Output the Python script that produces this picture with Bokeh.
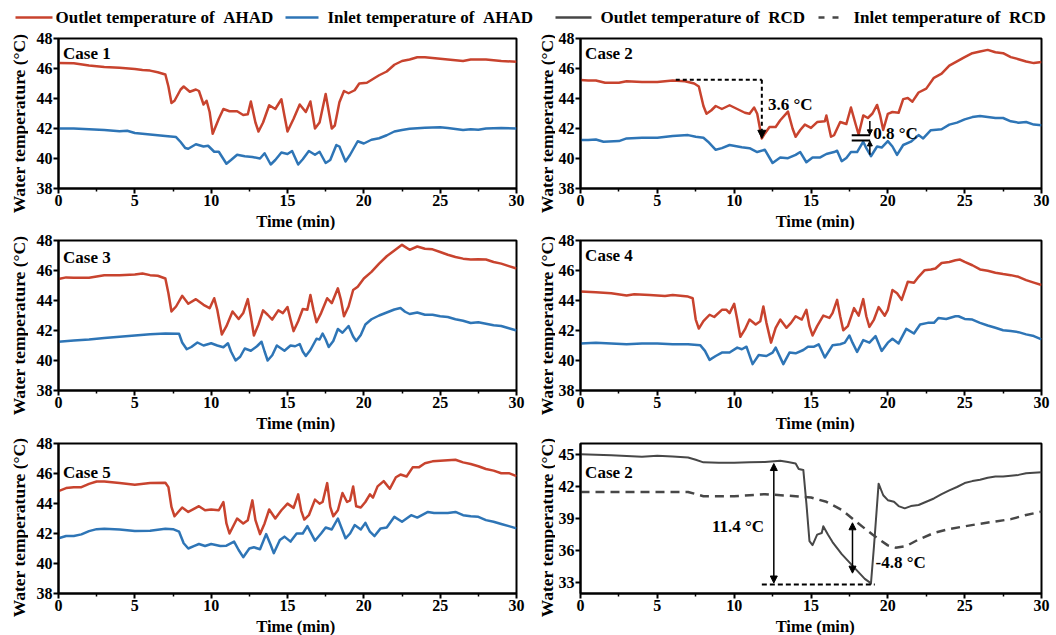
import math
from bokeh.plotting import figure
from bokeh.layouts import column, row
from bokeh.models import Label, Arrow, NormalHead, FixedTicker, Range1d
from bokeh.embed import file_html
from bokeh.resources import INLINE

# ---------------- data (time in min, temperature in degC) ----------------
legend_labels = ["Outlet temperature of \u00a0AHAD", "Inlet temperature of \u00a0AHAD",
                 "Outlet temperature of \u00a0RCD", "Inlet temperature of \u00a0RCD"]
case_labels = ["Case 1", "Case 2", "Case 3", "Case 4", "Case 5", "Case 2"]
x_title = "Time (min)"
y_title = "Water temperature (\u00b0C)"
x_ticks = [0, 5, 10, 15, 20, 25, 30]
x_minor = [2.5, 7.5, 12.5, 17.5, 22.5, 27.5]
y_ticks_ahad = [38, 40, 42, 44, 46, 48]
y_ticks_rcd = [33, 36, 39, 42, 45]

c1_out = [(0,46.36),(1,46.35),(2,46.2),(3,46.1),(4,46.05),(5,45.97),(5.5,45.9),(6,45.86),(6.5,45.75),(7,45.6),
          (7.2,44.8),(7.4,43.7),(7.6,43.85),(8,44.6),(8.2,44.8),(8.6,44.45),(9,44.6),(9.2,44.5),(9.5,43.6),(9.7,43.85),
          (9.9,43.1),(10.1,41.65),(10.5,42.65),(10.8,43.3),(11.2,43.15),(11.7,43.15),(12.1,42.9),(12.4,42.95),(12.6,43.8),
          (12.9,42.4),(13.1,41.8),(13.4,42.4),(13.8,43.55),(14.2,43.3),(14.6,43.95),(14.8,42.85),(15,41.8),(15.4,42.65),
          (15.8,43.6),(16.2,43.1),(16.5,43.8),(16.8,42.0),(17.1,42.4),(17.5,44.3),(17.9,42.0),(18.1,42.2),(18.4,43.75),
          (18.7,44.5),(19,44.35),(19.4,44.55),(19.7,45.0),(20.2,45.05),(20.6,45.3),(21,45.55),(21.5,45.8),(22,46.25),
          (22.5,46.5),(23,46.6),(23.5,46.75),(24,46.75),(24.5,46.7),(25,46.65),(25.5,46.6),(26,46.55),(26.5,46.5),
          (27,46.6),(28,46.6),(29,46.5),(30,46.45)]
c1_in = [(0,42.0),(1,42.0),(2,41.95),(3,41.9),(4,41.82),(4.5,41.85),(5,41.7),(6,41.6),(7,41.5),(7.7,41.43),(8.0,41.1),
         (8.3,40.7),(8.5,40.65),(9.0,40.95),(9.5,40.8),(9.8,40.85),(10.2,40.45),(10.5,40.45),(11.0,39.65),(11.3,39.9),
         (11.7,40.25),(12.2,40.15),(12.7,40.1),(13.2,40.0),(13.5,40.35),(13.9,39.6),(14.2,39.9),(14.6,40.4),(15.0,40.3),
         (15.3,40.5),(15.7,39.6),(16.0,39.95),(16.4,40.5),(16.8,40.25),(17.1,40.45),(17.5,39.7),(17.8,39.9),(18.2,40.9),
         (18.4,40.8),(18.8,39.8),(19.1,40.25),(19.6,41.15),(20.0,41.0),(20.5,41.25),(21.0,41.35),(21.5,41.55),(22,41.8),
         (22.5,41.9),(23,41.98),(24,42.05),(25,42.08),(25.5,42.03),(26.5,41.9),(27,41.95),(27.5,41.92),(28,42.0),
         (29,42.03),(30,42.0)]

c2_out = [(0,45.23),(0.5,45.2),(1.0,45.2),(1.6,45.05),(2.5,45.05),(3,45.15),(4,45.1),(5,45.1),(6,45.2),(6.8,45.15),
          (7.4,45.0),(7.7,44.8),(8.0,43.5),(8.2,42.98),(8.5,43.2),(8.8,43.5),(9.2,43.3),(9.7,43.55),(10.2,43.3),
          (10.7,43.05),(11.0,42.98),(11.3,43.4),(11.5,42.98),(11.8,41.34),(12.0,41.67),(12.3,42.1),(12.7,42.1),
          (13.0,42.55),(13.5,43.13),(13.8,42.0),(14.0,41.45),(14.3,41.9),(14.6,42.26),(15.0,42.04),(15.4,42.43),
          (15.9,42.48),(16.0,42.87),(16.3,41.45),(16.5,41.55),(16.9,42.43),(17.3,42.3),(17.6,43.4),(17.9,42.3),
          (18.1,41.6),(18.4,42.87),(18.7,42.7),(19.0,43.0),(19.3,43.57),(19.5,42.87),(19.7,41.9),(20.0,42.98),
          (20.3,43.1),(20.7,43.05),(21.0,43.96),(21.3,44.03),(21.6,43.79),(22.0,44.4),(22.5,44.66),(23,45.38),
          (23.5,45.66),(24,46.19),(24.5,46.47),(25,46.76),(25.5,47.02),(26,47.13),(26.5,47.24),(27,47.08),
          (27.5,47.02),(28,46.76),(28.5,46.62),(29,46.47),(29.5,46.36),(30,46.43)]
c2_in = [(0,41.23),(0.5,41.23),(1.0,41.27),(1.5,41.12),(2.5,41.16),(3,41.34),(4,41.38),(5,41.38),(6,41.5),(7,41.56),
         (7.5,41.45),(8.0,41.38),(8.3,41.12),(8.8,40.58),(9.2,40.69),(9.7,40.9),(10.5,40.75),(11,40.69),(11.5,40.43),
         (12.0,40.58),(12.5,39.7),(13.0,40.07),(13.5,40.02),(14.0,40.24),(14.3,40.43),(14.7,39.75),(15.1,40.07),
         (15.6,40.07),(16.0,40.3),(16.5,40.43),(16.7,40.52),(17.0,39.82),(17.3,40.04),(17.6,40.43),(18.0,40.43),
         (18.4,41.12),(18.6,40.69),(18.9,40.15),(19.3,40.8),(19.6,40.73),(20.0,41.16),(20.3,40.8),(20.6,40.24),
         (21.0,40.9),(21.5,41.12),(22.0,41.56),(22.3,41.34),(22.8,41.89),(23.5,41.95),(24,42.26),(24.5,42.39),
         (25,42.61),(25.5,42.76),(26,42.83),(26.5,42.76),(27,42.7),(27.5,42.7),(28,42.48),(28.5,42.39),(29,42.43),
         (29.5,42.26),(30,42.21)]

c3_out = [(0,45.43),(0.5,45.54),(1,45.52),(2,45.52),(3,45.69),(4,45.69),(5,45.74),(5.5,45.8),(6,45.69),(6.5,45.65),
          (7.0,45.47),(7.2,44.48),(7.4,43.27),(7.7,43.6),(8.1,44.31),(8.5,43.78),(9.0,44.09),(9.5,43.71),(9.9,43.49),
          (10.2,44.15),(10.4,43.38),(10.7,41.74),(11.0,42.29),(11.4,43.27),(11.8,42.77),(12.1,43.16),(12.4,44.09),
          (12.6,42.95),(12.8,41.67),(13.1,42.4),(13.4,43.34),(13.7,43.05),(14.0,42.73),(14.4,43.34),(14.7,43.16),
          (15.0,43.56),(15.2,42.73),(15.4,41.96),(15.7,42.62),(16.0,43.43),(16.3,43.38),(16.5,44.37),(16.7,43.38),
          (16.9,42.55),(17.2,43.16),(17.6,44.15),(17.9,43.82),(18.3,44.81),(18.5,44.04),(18.7,42.95),(19.0,43.6),
          (19.3,44.7),(19.6,44.92),(20.0,45.47),(20.5,45.91),(21,46.46),(21.5,46.95),(22,47.34),(22.5,47.71),
          (23,47.38),(23.5,47.6),(24,47.45),(24.5,47.41),(25,47.23),(25.5,47.05),(26,46.9),(26.5,46.79),(27,46.73),
          (27.5,46.75),(28,46.73),(28.5,46.57),(29,46.46),(29.5,46.29),(30,46.13)]
c3_in = [(0,41.25),(1,41.33),(2,41.4),(3,41.5),(4,41.58),(5,41.67),(6,41.75),(7,41.8),(7.9,41.78),(8.1,41.2),
         (8.4,40.75),(8.7,40.9),(9.1,41.2),(9.5,41.0),(10.0,41.15),(10.4,41.0),(10.8,40.88),(11.1,41.15),(11.3,40.6),
         (11.6,40.0),(11.9,40.25),(12.2,40.8),(12.6,40.65),(13.0,40.95),(13.3,41.25),(13.5,40.6),(13.7,40.0),
         (14.0,40.35),(14.3,41.0),(14.8,40.65),(15.2,41.0),(15.5,40.95),(15.8,41.1),(16.0,40.6),(16.2,40.3),
         (16.5,40.7),(16.9,41.45),(17.1,41.4),(17.3,41.8),(17.5,41.4),(17.7,40.9),(18.0,41.3),(18.3,42.1),
         (18.6,41.85),(19.0,42.3),(19.3,41.6),(19.5,41.3),(19.8,41.7),(20.1,42.4),(20.5,42.75),(21.0,43.0),
         (21.5,43.2),(22.0,43.4),(22.4,43.5),(22.7,43.25),(23.0,43.1),(23.5,43.2),(24.0,43.05),(24.5,43.05),
         (25,42.95),(25.5,42.9),(26,42.75),(26.5,42.65),(27,42.5),(27.5,42.55),(28,42.45),(28.5,42.35),(29,42.3),
         (29.5,42.15),(30,42.0)]

c4_out = [(0,44.6),(1,44.55),(2,44.48),(3,44.33),(3.5,44.42),(4.5,44.37),(5.5,44.3),(6,44.37),(7,44.26),(7.3,44.15),
          (7.5,42.73),(7.7,42.13),(8.0,42.62),(8.4,43.05),(8.7,42.9),(9.2,43.38),(9.5,43.38),(9.7,43.16),(10.0,43.78),
          (10.2,42.73),(10.4,41.58),(10.7,42.07),(11.0,42.73),(11.4,42.4),(11.7,42.62),(11.9,43.6),(12.1,42.51),
          (12.4,41.19),(12.7,42.18),(13.0,42.73),(13.4,42.18),(13.7,42.51),(14.0,42.95),(14.4,42.73),(14.7,43.38),
          (14.9,42.29),(15.1,41.67),(15.4,42.29),(15.8,42.99),(16.2,42.84),(16.4,43.16),(16.7,44.04),(16.9,42.95),
          (17.1,42.02),(17.4,42.29),(17.8,43.49),(18.1,42.99),(18.4,44.09),(18.6,42.95),(18.8,42.24),(19.1,42.73),
          (19.4,43.56),(19.8,42.99),(20.0,43.38),(20.3,44.7),(20.6,44.48),(20.9,44.04),(21.3,45.25),(21.7,45.19),
          (22.0,45.58),(22.4,46.02),(22.8,46.07),(23.1,46.13),(23.5,46.5),(24.0,46.57),(24.4,46.68),(24.7,46.73),
          (25.0,46.57),(25.5,46.35),(26,46.07),(26.5,45.98),(27,45.85),(27.5,45.76),(28,45.69),(28.5,45.58),
          (29,45.36),(29.5,45.19),(30,45.03)]
c4_in = [(0,41.14),(1,41.19),(2,41.14),(3,41.08),(4,41.14),(5,41.14),(6,41.08),(7,41.08),(7.8,41.01),(8.1,40.64),
         (8.4,40.04),(8.8,40.3),(9.2,40.53),(9.7,40.53),(10.2,40.86),(10.5,40.75),(10.8,40.92),(11.2,39.76),
         (11.6,40.37),(12.1,40.3),(12.5,40.53),(12.7,40.86),(13.2,39.76),(13.6,40.53),(14.0,40.48),(14.5,40.7),
         (14.8,40.92),(15.2,40.92),(15.5,41.08),(15.9,40.2),(16.4,41.01),(16.9,41.08),(17.2,41.19),(17.5,41.67),
         (17.7,41.19),(18.0,40.57),(18.4,41.36),(18.8,41.19),(19.2,41.63),(19.6,40.64),(20.0,41.19),(20.3,41.45),
         (20.7,41.14),(21.2,42.11),(21.7,41.8),(22.1,42.4),(22.6,42.51),(23.0,42.51),(23.3,42.84),(23.8,42.77),
         (24.4,42.95),(24.6,42.95),(25,42.77),(25.5,42.73),(26,42.51),(26.5,42.33),(27,42.18),(27.5,42.02),
         (28,41.96),(28.5,41.89),(29,41.74),(29.5,41.63),(30,41.41)]

c5_out = [(0,44.83),(0.5,45.03),(1.0,45.09),(1.5,45.09),(2.0,45.31),(2.5,45.47),(3,45.47),(4,45.36),(5,45.25),
          (6,45.36),(7,45.38),(7.2,45.09),(7.4,43.77),(7.6,43.15),(8.1,43.73),(8.5,43.44),(9.2,43.82),(9.6,43.55),
          (10.0,43.6),(10.5,43.55),(10.8,44.1),(11.0,42.67),(11.2,42.0),(11.7,43.0),(12.1,42.67),(12.4,42.89),
          (12.7,44.21),(12.9,42.89),(13.2,41.96),(13.5,42.67),(13.8,43.6),(14.2,43.0),(14.6,43.55),(15.0,43.99),
          (15.4,43.71),(15.7,44.61),(15.9,43.51),(16.1,42.93),(16.4,43.22),(16.8,44.26),(17.1,43.99),(17.3,44.1),
          (17.6,45.36),(17.8,43.77),(18.0,43.15),(18.3,43.55),(18.6,44.7),(18.9,44.1),(19.1,44.21),(19.3,45.14),
          (19.5,43.82),(19.8,43.73),(20.1,44.1),(20.4,44.61),(20.6,44.39),(20.9,45.14),(21.3,45.49),(21.7,44.98),
          (22.1,45.75),(22.4,45.93),(22.8,45.8),(23.2,46.41),(23.6,46.41),(24.0,46.68),(24.5,46.81),(25,46.85),
          (25.5,46.89),(26,46.92),(26.5,46.74),(27,46.63),(27.5,46.48),(28,46.3),(28.5,46.19),(29,46.02),
          (29.5,46.02),(30,45.82)]
c5_in = [(0,41.68),(0.5,41.83),(1.0,41.83),(1.5,41.94),(2,42.16),(2.5,42.29),(3,42.32),(4,42.27),(5,42.16),(6,42.18),
         (7,42.32),(7.5,42.29),(7.9,42.12),(8.2,41.35),(8.5,41.0),(8.9,41.17),(9.2,41.3),(9.6,41.17),(10.0,41.3),
         (10.6,41.17),(11.0,41.19),(11.5,41.46),(11.8,40.9),(12.1,40.42),(12.5,41.0),(12.8,41.08),(13.2,40.95),
         (13.6,41.96),(13.9,41.23),(14.1,40.69),(14.5,41.57),(14.8,41.79),(15.2,41.46),(15.6,42.0),(16.0,42.0),
         (16.3,42.49),(16.8,41.52),(17.2,42.0),(17.5,42.4),(17.9,42.27),(18.3,43.0),(18.8,41.68),(19.1,42.0),
         (19.4,42.56),(19.8,42.27),(20.1,42.71),(20.4,42.12),(20.7,41.83),(21.1,42.34),(21.5,42.4),(22.0,43.11),
         (22.5,42.78),(23.1,43.22),(23.5,43.06),(24.2,43.44),(24.6,43.37),(25,43.37),(25.5,43.37),(26,43.44),
         (26.5,43.22),(27,43.15),(27.5,43.11),(28,42.89),(28.5,42.78),(29,42.63),(29.5,42.49),(30,42.34)]

rcd_out = [(0,45.0),(2,44.9),(4,44.76),(5,44.85),(6,44.79),(7,44.69),(7.5,44.48),(8.0,44.24),(9,44.2),(10,44.2),
           (11,44.24),(12,44.27),(13,44.39),(13.5,44.27),(14.0,44.14),(14.2,43.62),(14.5,43.53),(14.7,40.41),
           (14.9,36.89),(15.1,36.52),(15.4,37.5),(15.7,37.65),(15.8,38.27),(16.1,37.5),(16.4,36.8),(17.0,35.67),
           (17.5,34.9),(18.0,34.13),(18.5,33.37),(18.8,33.06),(18.9,32.91),(19.1,36.43),(19.4,42.25),(19.7,41.17),
           (20.0,40.71),(20.4,40.56),(20.7,40.16),(21.1,39.95),(21.5,40.16),(22,40.26),(22.5,40.56),(23,40.87),
           (23.5,41.27),(24,41.63),(24.5,41.94),(25,42.31),(25.5,42.49),(26,42.61),(26.5,42.8),(27,42.92),
           (27.5,42.92),(28,43.0),(28.5,43.07),(29,43.22),(30,43.32)]
rcd_in = [(0,41.48),(4,41.48),(7,41.48),(8,41.08),(10,41.08),(12,41.27),(14,41.08),(15,40.96),(16,40.56),(17,39.8),
          (18,38.63),(19,37.5),(20,36.49),(20.5,36.28),(21.2,36.43),(22,37.04),(23,37.65),(24,38.02),(25,38.27),
          (26,38.51),(27,38.72),(28,38.94),(29,39.33),(30,39.64)]

# ---------------- styling ----------------
FONT = "Liberation Serif"
RED = "#C8432E"
BLUE = "#2E75B6"
GRAY = "#474747"


def xs(pairs):
    return [a for a, b in pairs]


def ys(pairs):
    return [b for a, b in pairs]


def text_label(**kw):
    base = dict(text_font=FONT, text_font_style="bold", text_color="black", text_baseline="middle")
    base.update(kw)
    return Label(**base)


def strip(w, h):
    f = figure(width=w, height=h, x_range=Range1d(0, w), y_range=Range1d(0, h),
               toolbar_location=None, output_backend="svg", min_border=0)
    f.axis.visible = False
    f.grid.visible = False
    f.outline_line_color = None
    return f


def y_title_strip(w, h, xc):
    f = strip(w, h)
    f.add_layout(text_label(x=xc, y=h - 95, text=y_title, text_font_size="17.5px",
                            text_align="center", angle=math.pi / 2))
    return f


def x_title_strip(w, h, xc, yc):
    f = strip(w, h)
    f.add_layout(text_label(x=xc, y=yc, text=x_title, text_font_size="16.5px", text_align="center"))
    return f


def make_panel(side, height, top, bottom, yrange, yticks, label, label_y):
    if side == "left":
        w, bl, br = 500, 30, 12
    else:
        w, bl, br = 501, 24, 15
    p = figure(width=w, height=height, x_range=Range1d(0, 30), y_range=Range1d(*yrange),
               toolbar_location=None, output_backend="svg",
               min_border_left=bl, min_border_right=br, min_border_top=top, min_border_bottom=bottom)
    p.grid.visible = False
    p.outline_line_color = "black"
    p.outline_line_width = 2
    p.outline_line_alpha = 1
    p.background_fill_color = "white"
    p.border_fill_color = "white"
    p.xaxis.ticker = FixedTicker(ticks=x_ticks, minor_ticks=x_minor)
    p.yaxis.ticker = FixedTicker(ticks=yticks, minor_ticks=[])
    for ax in [p.xaxis[0], p.yaxis[0]]:
        ax.axis_line_width = 2
        ax.axis_line_color = "black"
        ax.major_tick_line_width = 2
        ax.major_tick_line_color = "black"
        ax.major_tick_out = 5
        ax.major_tick_in = 0
        ax.minor_tick_line_width = 1.5
        ax.minor_tick_line_color = "black"
        ax.minor_tick_out = 3
        ax.minor_tick_in = 0
        ax.major_label_text_font = FONT
        ax.major_label_text_font_style = "bold"
        ax.major_label_text_font_size = "16px"
        ax.major_label_text_color = "black"
    p.xaxis.major_label_standoff = 1
    p.yaxis.major_label_standoff = 1
    p.add_layout(text_label(x=0.3, y=label_y, text=label, text_font_size="17px"))
    return p


def add_pair(p, out_pairs, in_pairs):
    p.line(xs(out_pairs), ys(out_pairs), line_color=RED, line_width=2.5, line_join="round")
    p.line(xs(in_pairs), ys(in_pairs), line_color=BLUE, line_width=2.5, line_join="round")


def note(p, x, y, text, align="left"):
    p.add_layout(text_label(x=x, y=y, text=text, text_font_size="17px", text_align=align))


def head(size=7):
    return NormalHead(size=size, fill_color="black", line_color="black", line_width=1)


yr_ahad = (38, 48)
H12, T12, B12, XL12 = 184, 10, 24, 18
H3, T3, B3, XL3 = 185, 11, 24, 18

p1 = make_panel("left", H12, T12, B12, yr_ahad, y_ticks_ahad, case_labels[0], 47.0)
add_pair(p1, c1_out, c1_in)

p2 = make_panel("right", H12, T12, B12, yr_ahad, y_ticks_ahad, case_labels[1], 47.0)
add_pair(p2, c2_out, c2_in)
p2.add_layout(Arrow(start=None, end=None, x_start=6.2, y_start=45.25, x_end=11.8, y_end=45.25,
                    line_color="black", line_width=2, line_dash="4 3"))
p2.add_layout(Arrow(start=None, end=head(8), x_start=11.8, y_start=45.25, x_end=11.8, y_end=41.35,
                    line_color="black", line_width=2, line_dash="4 3"))
note(p2, 12.2, 43.6, "3.6 \u00b0C")
p2.add_layout(Arrow(start=None, end=None, x_start=17.65, y_start=41.55, x_end=18.85, y_end=41.55,
                    line_color="black", line_width=2))
p2.add_layout(Arrow(start=None, end=None, x_start=17.65, y_start=41.2, x_end=18.85, y_end=41.2,
                    line_color="black", line_width=2))
p2.add_layout(Arrow(start=None, end=head(5), x_start=18.83, y_start=42.5, x_end=18.83, y_end=41.58,
                    line_color="black", line_width=1.5))
p2.add_layout(Arrow(start=None, end=head(5), x_start=18.83, y_start=40.25, x_end=18.83, y_end=41.17,
                    line_color="black", line_width=1.5))
note(p2, 19.05, 41.66, "0.8 \u00b0C")

p3 = make_panel("left", H12, T12, B12, yr_ahad, y_ticks_ahad, case_labels[2], 46.9)
add_pair(p3, c3_out, c3_in)
p4 = make_panel("right", H12, T12, B12, yr_ahad, y_ticks_ahad, case_labels[3], 47.0)
add_pair(p4, c4_out, c4_in)

p5 = make_panel("left", H3, T3, B3, yr_ahad, y_ticks_ahad, case_labels[4], 46.1)
add_pair(p5, c5_out, c5_in)

p6 = make_panel("right", H3, T3, B3, (32, 46), y_ticks_rcd, case_labels[5], 43.3)
p6.line(xs(rcd_out), ys(rcd_out), line_color=GRAY, line_width=2, line_join="round")
p6.line(xs(rcd_in), ys(rcd_in), line_color=GRAY, line_width=2.5, line_dash="9 6")
p6.add_layout(Arrow(start=head(7), end=head(7), x_start=12.58, y_start=44.13, x_end=12.58, y_end=32.98,
                    line_color="black", line_width=1.5))
p6.add_layout(Arrow(start=head(7), end=head(7), x_start=17.7, y_start=38.6, x_end=17.7, y_end=33.9,
                    line_color="black", line_width=1.5))
p6.add_layout(Arrow(start=None, end=None, x_start=11.8, y_start=32.83, x_end=19.15, y_end=32.83,
                    line_color="black", line_width=2, line_dash="5 3"))
note(p6, 11.95, 38.3, "11.4 \u00b0C", align="right")
note(p6, 19.2, 34.9, "-4.8 \u00b0C")

# ---------------- legend strip ----------------
leg = strip(1056, 28)
leg_y = 11
leg_line_x = [(15, 52), (285, 318), (555, 591), (818, 843)]
leg_text_x = [55, 327, 600, 853]
leg_colors = [RED, BLUE, GRAY, GRAY]
leg_dash = ["solid", "solid", "solid", "6 8"]
for (x0, x1), tx, c, d, lab in zip(leg_line_x, leg_text_x, leg_colors, leg_dash, legend_labels):
    leg.line([x0, x1], [leg_y, leg_y], line_color=c, line_width=2.5, line_dash=d)
    leg.add_layout(text_label(x=tx, y=leg_y, text=lab, text_font_size="17px"))


def panel_row(pl, pr, h, xl_h, xl_y):
    return row(
        y_title_strip(28, h + xl_h, 18),
        column(pl, x_title_strip(500, xl_h, 259, xl_y)),
        y_title_strip(27, h + xl_h, 18),
        column(pr, x_title_strip(501, xl_h, 255, xl_y)),
    )


layout = column(leg,
                panel_row(p1, p2, H12, XL12, 9),
                panel_row(p3, p4, H12, XL12, 9),
                panel_row(p5, p6, H3, XL3, 9))
open("out.html", "w").write(file_html(layout, INLINE))
